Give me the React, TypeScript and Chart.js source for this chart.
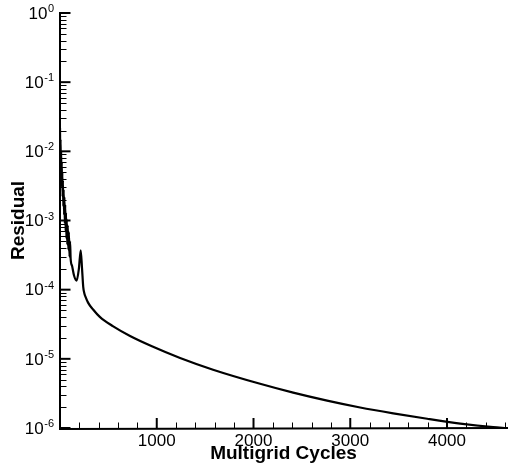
import { useEffect, useRef } from "react";
import { Chart, registerables } from "chart.js";

Chart.register(...registerables);

// Convergence history: multigrid cycle number and residual
const cycles = [
  0, 3, 6, 9, 12, 15, 18, 21, 24, 27, 30, 34, 38, 42, 46, 50, 54, 58, 62, 66,
  70, 75, 80, 86, 92, 98, 104, 110, 125, 145, 172, 195, 214, 228, 240, 252, 262,
  290, 340, 414, 550, 724, 950, 1241, 1582, 2068, 2410, 2761, 3102, 3444, 3795,
  4137, 4478, 4615,
];
const residuals = [
  2.2e-2, 9.0e-3, 1.5e-2, 6.0e-3, 1.0e-2, 4.2e-3, 7.0e-3, 3.0e-3, 5.0e-3, 2.2e-3,
  3.8e-3, 1.6e-3, 2.8e-3, 1.2e-3, 2.2e-3, 9.0e-4, 1.7e-3, 7.0e-4, 1.3e-3, 5.5e-4,
  1.05e-3, 4.5e-4, 8.5e-4, 3.8e-4, 6.8e-4, 3.0e-4, 5.0e-4, 2.8e-4, 2.2e-4, 1.6e-4,
  1.35e-4, 2.0e-4, 3.7e-4, 2.0e-4, 1.1e-4, 8.8e-5, 8.0e-5,
  6.5e-5, 5.2e-5, 4.0e-5, 2.95e-5, 2.14e-5, 1.52e-5, 1.03e-5, 6.97e-6, 4.36e-6,
  3.25e-6, 2.49e-6, 1.98e-6, 1.63e-6, 1.36e-6, 1.16e-6, 1.03e-6, 1.0e-6,
];

// Axis ticks
const xLabelTicks = [1000, 2000, 3000, 4000];
const xMinorStep = 200;
const xMax = 4620;
const yDecades = [-6, -5, -4, -3, -2, -1, 0];

const xTitle = "Multigrid Cycles";
const yTitle = "Residual";

const FONT = "'Liberation Sans', Arial, Helvetica, sans-serif";

const axesPlugin = {
  id: "tecAxes",
  afterDatasetsDraw(chart: any) {
    const ctx = chart.ctx as CanvasRenderingContext2D;
    const xs = chart.scales.x;
    const ys = chart.scales.y;
    const area = chart.chartArea;
    ctx.save();
    ctx.strokeStyle = "#000";
    ctx.fillStyle = "#000";
    ctx.lineCap = "butt";

    // axis lines
    ctx.lineWidth = 2;
    ctx.beginPath();
    ctx.moveTo(area.left, area.top - 1);
    ctx.lineTo(area.left, area.bottom + 1);
    ctx.lineTo(area.right + 1, area.bottom);
    ctx.stroke();

    // y ticks (inward)
    for (const k of yDecades) {
      const yp = ys.getPixelForValue(Math.pow(10, k));
      ctx.lineWidth = 2;
      ctx.beginPath();
      ctx.moveTo(area.left - 1, yp);
      ctx.lineTo(area.left + 10.5, yp);
      ctx.stroke();
      if (k < 0) {
        ctx.lineWidth = 1;
        for (let m = 2; m <= 9; m++) {
          const ym = Math.round(ys.getPixelForValue(m * Math.pow(10, k))) + 0.5;
          ctx.beginPath();
          ctx.moveTo(area.left, ym);
          ctx.lineTo(area.left + 6.5, ym);
          ctx.stroke();
        }
      }
    }

    // x ticks (inward)
    for (let v = xMinorStep; v <= xMax; v += xMinorStep) {
      const major = v % 1000 === 0;
      const xp = xs.getPixelForValue(v);
      ctx.lineWidth = major ? 2 : 1;
      const xx = major ? xp : Math.round(xp) + 0.5;
      ctx.beginPath();
      ctx.moveTo(xx, area.bottom);
      ctx.lineTo(xx, area.bottom - (major ? 10 : 5.5));
      ctx.stroke();
    }

    // y tick labels: 10 with superscript exponent
    const baseFont = `17px ${FONT}`;
    const supFont = `11px ${FONT}`;
    const rightEdge = area.left - 6;
    for (const k of yDecades) {
      const yp = ys.getPixelForValue(Math.pow(10, k));
      const exp = String(k);
      ctx.font = supFont;
      const ew = ctx.measureText(exp).width;
      ctx.textAlign = "left";
      ctx.textBaseline = "alphabetic";
      ctx.fillText(exp, rightEdge - ew, yp - 1);
      ctx.font = baseFont;
      ctx.textAlign = "right";
      ctx.textBaseline = "middle";
      ctx.fillText("10", rightEdge - ew - 0.5, yp + 1);
    }

    // x tick labels
    ctx.font = baseFont;
    ctx.textAlign = "center";
    ctx.textBaseline = "middle";
    for (const v of xLabelTicks) {
      ctx.fillText(String(v), xs.getPixelForValue(v), area.bottom + 13);
    }

    // axis titles
    ctx.font = `bold 19px ${FONT}`;
    ctx.textAlign = "center";
    ctx.textBaseline = "alphabetic";
    ctx.fillText(xTitle, (area.left + area.right) / 2, area.bottom + 31);

    ctx.save();
    ctx.translate(24, (area.top + area.bottom) / 2);
    ctx.rotate(-Math.PI / 2);
    ctx.fillText(yTitle, 0, 0);
    ctx.restore();

    ctx.restore();
  },
};

export default function App() {
  const canvasRef = useRef<HTMLCanvasElement | null>(null);

  useEffect(() => {
    const canvas = canvasRef.current;
    if (!canvas) return;
    const points = cycles.map((c, i) => ({ x: c, y: residuals[i] }));
    const chart = new Chart(canvas, {
      type: "line",
      data: {
        datasets: [
          {
            data: points,
            borderColor: "#000",
            borderWidth: 2.2,
            pointRadius: 0,
            cubicInterpolationMode: "monotone",
            fill: false,
          },
        ],
      },
      options: {
        animation: false,
        responsive: false,
        devicePixelRatio: 1,
        parsing: false,
        layout: { padding: { left: 60, top: 13, right: 6, bottom: 42 } },
        plugins: { legend: { display: false }, tooltip: { enabled: false } },
        scales: {
          x: { type: "linear", min: 0, max: xMax, display: false },
          y: { type: "logarithmic", min: 1e-6, max: 1, display: false },
        },
      },
      plugins: [axesPlugin],
    });
    return () => chart.destroy();
  }, []);

  return (
    <div style={{ position: "fixed", left: 0, top: 0, width: 513, height: 470, background: "#fff" }}>
      <canvas ref={canvasRef} width={513} height={470} style={{ display: "block" }} />
    </div>
  );
}
